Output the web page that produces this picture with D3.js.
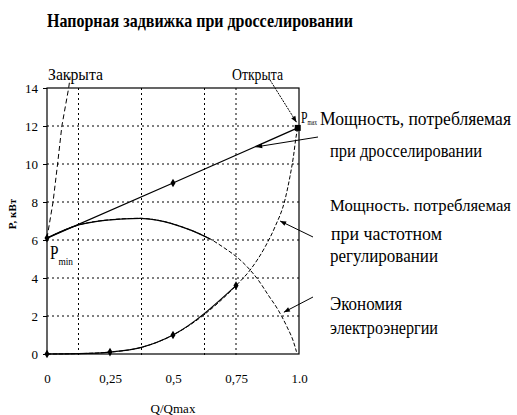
<!DOCTYPE html>
<html>
<head>
<meta charset="utf-8">
<script src="https://cdn.jsdelivr.net/npm/d3@7"></script>
<style>
  body { margin: 0; background: #fff; }
  svg text { font-family: "Liberation Serif", "Times New Roman", "DejaVu Serif", serif; fill: #000; }
</style>
</head>
<body>
<div class="chart"></div>
<script>
// chart data
var titleText = "Напорная задвижка при дросселировании";
var qTicks = [0, 0.25, 0.5, 0.75, 1.0];
var qTickLabels = ["0", "0,25", "0,5", "0,75", "1.0"];
var pTicks = [0, 2, 4, 6, 8, 10, 12, 14];
var qGrid = [0.125, 0.375, 0.625, 0.75];

// throttling (straight line Pmin -> Pmax)
var throttleQ = [0, 0.5, 0.995];
var throttleP = [6.1, 9.0, 11.9];

// frequency regulation
var freqQ = [0, 0.125, 0.25, 0.375, 0.5, 0.75, 0.806, 0.866, 0.905, 0.944, 0.964, 0.978, 0.988, 0.995];
var freqP = [0, 0.02, 0.1, 0.35, 1.0, 3.6, 4.42, 5.65, 6.7, 8.1, 9.33, 10.4, 11.4, 11.9];

// energy saving (hump)
var savingQ = [0, 0.125, 0.238, 0.37, 0.436, 0.568, 0.648, 0.706, 0.759, 0.806, 0.838, 0.878, 0.918, 0.952, 0.978, 0.99];
var savingP = [6.1, 6.79, 7.05, 7.14, 7.05, 6.53, 6.05, 5.56, 5.04, 4.42, 3.9, 3.1, 2.3, 1.44, 0.65, 0.12];

// valve closed
var closedQ = [0, 0.024, 0.042, 0.059, 0.086, 0.092];
var closedP = [6.1, 8, 10, 12, 14, 14.6];

var svgWidth = 517, svgHeight = 415;
var margin = { top: 88, left: 47 };
var width = 252, height = 266;

var svg = d3.select(".chart").append("svg")
  .attr("width", svgWidth)
  .attr("height", svgHeight)
  .attr("font-family", "'Liberation Serif', 'Times New Roman', serif");

svg.append("rect").attr("width", svgWidth).attr("height", svgHeight).attr("fill", "#fff");

var defs = svg.append("defs");
defs.append("marker")
  .attr("id", "arr")
  .attr("viewBox", "0 0 10 10")
  .attr("refX", 10).attr("refY", 5)
  .attr("markerWidth", 7).attr("markerHeight", 6)
  .attr("markerUnits", "userSpaceOnUse")
  .attr("orient", "auto")
  .append("path").attr("d", "M0,1L10,5L0,9z").attr("fill", "#000");

// title
svg.append("text")
  .attr("x", 47).attr("y", 27)
  .attr("font-size", 19).attr("font-weight", "bold")
  .attr("textLength", 306).attr("lengthAdjust", "spacingAndGlyphs")
  .text(titleText);

var chartGroup = svg.append("g")
  .attr("transform", `translate(${margin.left}, ${margin.top})`);

var xScale = d3.scaleLinear().domain([0, 1]).range([0, width]);
var yScale = d3.scaleLinear().domain([0, 14]).range([height, 0]);

// grid
chartGroup.selectAll(".vgrid").data(qGrid).enter().append("line")
  .attr("x1", d => xScale(d)).attr("x2", d => xScale(d))
  .attr("y1", 0).attr("y2", height + 4)
  .attr("stroke", "#000").attr("stroke-width", 1)
  .attr("stroke-dasharray", "2,3");

chartGroup.selectAll(".hgrid").data(pTicks.slice(1, -1)).enter().append("line")
  .attr("x1", 0).attr("x2", width)
  .attr("y1", d => yScale(d)).attr("y2", d => yScale(d))
  .attr("stroke", "#000").attr("stroke-width", 1)
  .attr("stroke-dasharray", "2,3");

// frame
chartGroup.append("rect")
  .attr("width", width).attr("height", height)
  .attr("fill", "none").attr("stroke", "#000").attr("stroke-width", 1.2);

// axes
var yAxis = d3.axisLeft(yScale).tickValues(pTicks).tickSize(4).tickPadding(5);
var gy = chartGroup.append("g").call(yAxis).attr("font-family", null);
gy.select(".domain").remove();
gy.selectAll("text").attr("font-size", 13);

var xAxis = d3.axisBottom(xScale).tickValues(qTicks)
  .tickFormat((d, i) => qTickLabels[i]).tickSize(0).tickPadding(20);
var gx = chartGroup.append("g").attr("transform", `translate(0, ${height})`).call(xAxis).attr("font-family", null);
gx.select(".domain").remove();
gx.selectAll("text").attr("font-size", 13);

// axis titles
svg.append("text")
  .attr("transform", "translate(16, 214) rotate(-90)")
  .attr("text-anchor", "middle")
  .attr("font-size", 11).attr("font-weight", "bold")
  .text("P, кВт");

svg.append("text")
  .attr("x", margin.left + xScale(0.5)).attr("y", 413)
  .attr("text-anchor", "middle")
  .attr("font-size", 13)
  .text("Q/Qmax");

// curves
function zip(qs, ps) { return qs.map((q, i) => [q, ps[i]]); }

var lineLinear = d3.line().x(d => xScale(d[0])).y(d => yScale(d[1]));
var lineSmooth = d3.line().x(d => xScale(d[0])).y(d => yScale(d[1])).curve(d3.curveMonotoneX);

chartGroup.append("path")
  .attr("d", lineLinear(zip(closedQ, closedP)))
  .attr("fill", "none").attr("stroke", "#000").attr("stroke-width", 1)
  .attr("stroke-dasharray", "5,3");

chartGroup.append("path")
  .attr("d", lineLinear(zip(throttleQ, throttleP)))
  .attr("fill", "none").attr("stroke", "#000").attr("stroke-width", 1.3);

// full curves drawn thin and broken, lower parts overdrawn solid
var savingPts = zip(savingQ, savingP);
var freqPts = zip(freqQ, freqP);

chartGroup.append("path")
  .attr("d", lineSmooth(savingPts))
  .attr("fill", "none").attr("stroke", "#000").attr("stroke-width", 1)
  .attr("stroke-dasharray", "4,2");
chartGroup.append("path")
  .attr("d", lineSmooth(savingPts.filter(d => d[0] <= 0.65)))
  .attr("fill", "none").attr("stroke", "#000").attr("stroke-width", 1.3);

chartGroup.append("path")
  .attr("d", lineSmooth(freqPts))
  .attr("fill", "none").attr("stroke", "#000").attr("stroke-width", 1)
  .attr("stroke-dasharray", "4,2");
chartGroup.append("path")
  .attr("d", lineSmooth(freqPts.filter(d => d[0] <= 0.75)))
  .attr("fill", "none").attr("stroke", "#000").attr("stroke-width", 1.2);

// point markers
var diamond = d3.symbol().type(d3.symbolDiamond).size(22);
chartGroup.selectAll(".fm").data(freqPts.filter(d => [0, 0.25, 0.5, 0.75].includes(d[0]))).enter().append("path")
  .attr("d", diamond)
  .attr("transform", d => `translate(${xScale(d[0])}, ${yScale(d[1])})`);
chartGroup.selectAll(".tm").data(zip(throttleQ.slice(0, 2), throttleP.slice(0, 2))).enter().append("path")
  .attr("d", diamond)
  .attr("transform", d => `translate(${xScale(d[0])}, ${yScale(d[1])})`);
chartGroup.append("rect")
  .attr("x", xScale(throttleQ[2]) - 3).attr("y", yScale(throttleP[2]) - 3)
  .attr("width", 6).attr("height", 6);

// labels
function label(x, y, size, len, str) {
  return svg.append("text").attr("x", x).attr("y", y).attr("font-size", size)
    .attr("textLength", len).attr("lengthAdjust", "spacingAndGlyphs").text(str);
}
// P with subscript in one text element
function pLabel(x, y, size, len, sub, subSize, dy) {
  var t = svg.append("text").attr("x", x).attr("y", y).attr("font-size", size)
    .attr("textLength", len).attr("lengthAdjust", "spacingAndGlyphs");
  t.append("tspan").text("P");
  t.append("tspan").attr("font-size", subSize).attr("dy", dy).text(sub);
}

label(48, 80, 17, 55, "Закрыта");
label(232, 80, 17, 51, "Открыта");

pLabel(301, 123, 17, 16, "max", 8, 2);
pLabel(50, 259, 18, 23, "min", 11, 6);

label(320, 125, 18, 191, "Мощность, потребляемая");
label(330, 157, 18, 152, "при дросселировании");
label(330, 211, 17, 181, "Мощность. потребляемая");
label(331, 240, 18, 111, "при частотном");
label(330, 262, 18, 108, "регулировании");
label(330, 310, 18, 72, "Экономия");
label(330, 334, 18, 108, "электроэнергии");

// arrows
function arrow(x1, y1, q, p, dash) {
  var a = svg.append("line")
    .attr("x1", x1).attr("y1", y1)
    .attr("x2", margin.left + xScale(q)).attr("y2", margin.top + yScale(p))
    .attr("stroke", "#000").attr("stroke-width", 1)
    .attr("marker-end", "url(#arr)");
  if (dash) a.attr("stroke-dasharray", dash);
}
arrow(270, 80, 0.99, 12.2, "2,1");
arrow(318, 137, 0.83, 10.9);
arrow(313, 237, 0.925, 7.0);
arrow(313, 297, 0.94, 2.2);
</script>
</body>
</html>
